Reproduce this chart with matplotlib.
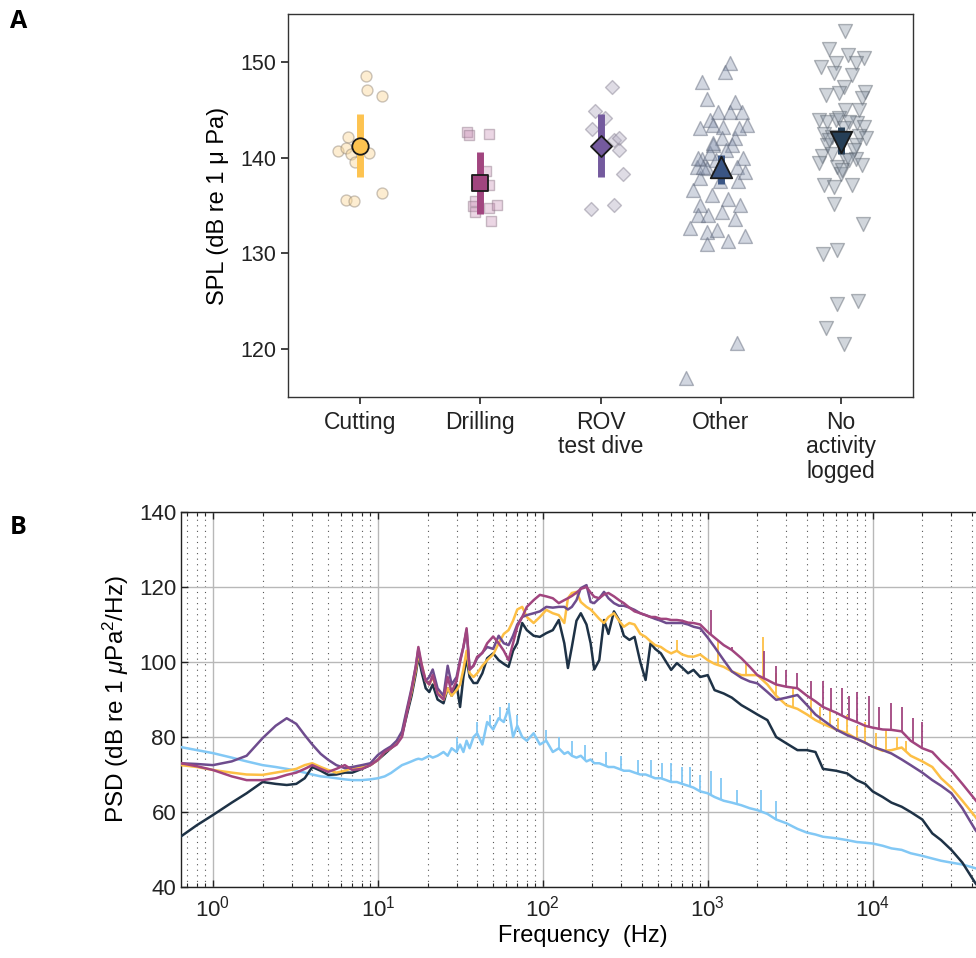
import numpy as np
import matplotlib
matplotlib.use("Agg")
import matplotlib.pyplot as plt
from matplotlib.ticker import FixedLocator, LogLocator, NullFormatter, FixedFormatter

plt.rcParams['font.family'] = ['Liberation Sans', 'DejaVu Sans']
plt.rcParams['mathtext.fontset'] = 'custom'
plt.rcParams['mathtext.rm'] = 'Liberation Sans'
plt.rcParams['mathtext.it'] = 'Liberation Sans:italic'
plt.rcParams['mathtext.bf'] = 'Liberation Sans:bold'

# ---------------- Panel A data ----------------
categories = ["Cutting", "Drilling", "ROV\ntest dive", "Other", "No\nactivity\nlogged"]

cut_spl = [148.5, 147.1, 146.4, 142.2, 140.7, 141.0, 140.4, 139.5, 140.5, 135.6, 135.5, 136.3]
cut_jit = [0.047, 0.061, 0.18, -0.097, -0.185, -0.119, -0.08, -0.044, 0.072, -0.114, -0.05, 0.18]

drill_spl = [142.7, 142.4, 142.5, 138.6, 137.1, 135.5, 134.9, 134.3, 134.7, 135.0, 133.4]
drill_jit = [-0.11, -0.09, 0.075, 0.047, 0.069, -0.041, -0.064, -0.047, 0.075, 0.139, 0.091]

rov_spl = [147.4, 144.9, 144.1, 143.0, 141.8, 142.0, 140.8, 138.3, 134.6, 135.1]
rov_jit = [0.097, -0.047, 0.041, -0.069, 0.11, 0.152, 0.152, 0.185, -0.083, 0.116]

other_spl = [149.9, 148.95, 147.9, 146.1, 145.8, 144.75, 144.75, 144.75, 143.9, 143.1,
             143.4, 143.2, 143.4, 142.1, 142.1, 141.3, 141.3, 139.9, 140.45, 140.0,
             139.0, 139.0, 138.9, 137.9, 141.5, 139.0, 140.0, 137.6, 137.6, 138.5,
             136.6, 136.05, 135.7, 135.0, 135.0, 134.05, 134.05, 134.3, 133.6, 132.2,
             132.4, 132.6, 131.0, 131.3, 131.85, 120.6, 117.0, 140.8, 139.7, 143.1]
other_jit = [0.075, 0.033, -0.158, -0.116, 0.116, -0.025, 0.075, 0.174, -0.091, -0.174,
             -0.066, 0.017, 0.216, 0.008, 0.116, -0.066, 0.091, -0.158, -0.091, 0.183,
             0.133, -0.199, -0.116, -0.174, -0.066, -0.149, -0.191, -0.008, 0.141, 0.199,
             -0.232, -0.075, 0.058, -0.174, 0.158, -0.191, -0.108, 0.008, 0.116, -0.116,
             -0.033, -0.257, -0.116, 0.058, 0.199, 0.133, -0.29, 0.041, -0.041, 0.149]

none_spl = [153.2, 151.3, 150.7, 150.45, 149.5, 149.9, 149.9, 148.8, 148.6, 147.4,
            146.5, 146.7, 146.9, 146.2, 145.0, 145.0, 143.9, 143.7, 143.9, 143.6,
            143.2, 142.5, 142.2, 142.3, 142.0, 141.3, 141.3, 140.2, 139.4, 140.4,
            139.7, 139.9, 139.2, 139.0, 138.3, 137.1, 136.9, 137.1, 135.2, 133.1,
            129.9, 130.35, 124.7, 125.0, 122.2, 120.55, 144.1, 143.7, 143.1, 141.8,
            140.8, 139.7, 138.7]
none_jit = [0.033, -0.1, 0.061, 0.191, -0.168, -0.044, 0.122, -0.058, 0.094, 0.025,
            -0.122, -0.017, 0.199, 0.177, 0.033, 0.149, -0.183, -0.114, -0.044, 0.135,
            0.191, -0.141, -0.072, 0.149, 0.205, -0.114, 0.122, -0.155, -0.183, -0.072,
            0.039, 0.122, 0.177, -0.031, -0.002, -0.141, -0.058, 0.094, -0.058, 0.183,
            -0.147, -0.036, -0.031, 0.144, -0.122, 0.025, -0.017, 0.066, 0.025, -0.1,
            0.108, 0.066, 0.008]

mean_spl = [141.2, 137.3, 141.2, 139.0, 141.6]
ci_low = [138.0, 134.1, 138.0, 137.2, 140.4]
ci_high = [144.6, 140.6, 144.6, 140.3, 143.2]

# ---------------- Panel B data ----------------
freq_hz = [0.64, 0.8, 1.0, 1.3, 1.6, 2.0, 2.4, 2.8, 3.2, 3.6, 4.0, 4.5, 5.0, 5.6, 6.3, 7.0, 8.0, 9.0,
           10, 11, 12, 13, 14, 15, 16, 17, 17.6, 18.5, 19.5, 20.5, 21.5, 23, 25, 26.5, 28, 30, 31.5,
           33, 34.5, 36, 38, 40, 43, 46, 50, 54, 58, 62, 66, 70, 75, 80, 88, 96, 105, 115, 125,
           135, 142, 150, 160, 170, 184, 195, 205, 220, 235, 250, 270, 290, 310, 335, 360, 390,
           420, 450, 480, 520, 560, 600, 650, 700, 760, 820, 900, 1000, 1100, 1250, 1400, 1600,
           1800, 2000, 2300, 2600, 3000, 3500, 4000, 4500, 5000, 6000, 7000, 8000, 9000, 10000,
           11500, 13000, 15000, 17000, 20000, 23000, 26000, 30000, 35000, 42000, 48000]

psd_cutting = [72.5, 72, 71.2, 70.5, 70, 69.9, 70.5, 71, 71.5, 72.5, 73, 72, 71.2, 70.5, 71, 71.7, 72, 72.5,
               73.9, 76, 77, 78.5, 81, 87, 92, 98, 102, 99, 95, 94, 96, 92, 90, 93, 91, 92.5, 94,
               98, 103, 97, 96, 97, 99, 100.5, 102, 105, 107.5, 108.5, 111, 114, 114.7, 112, 110.4, 112, 113.9, 113, 112.5,
               110.4, 117, 118.4, 118.7, 116, 114.7, 114, 113, 111.5, 110.4, 112, 113, 111, 109.4, 110.4, 110, 107.5,
               106.7, 105.5, 104.5, 104, 103, 102.3, 103, 102, 101.5, 101.4, 102, 100.5, 99.5, 98.7, 97.5, 96.5,
               96.5, 96.5, 94, 91, 88.5, 87.5, 86, 84.5, 83.5, 82, 81, 79.5, 78.5, 77.4,
               76.3, 76.5, 77.2, 75, 73.5, 72, 69, 66.5, 63, 58.7, 55]

psd_rov = [73, 72.8, 72.5, 73.5, 75, 79.7, 83, 85, 83.5, 80.5, 78, 75.5, 73.9, 72.5, 71.7, 72, 72.5, 73,
           75.2, 76.5, 77.5, 79, 81.5, 87.5, 93, 99, 103.5, 98, 95, 96, 98, 93, 91, 99, 94, 96, 100.5,
           104, 108.5, 98, 99, 101, 102.5, 104, 103.5, 107, 105, 104.5, 107, 110, 112, 112.5, 113, 113.5, 114.7, 114.5, 114.7,
           114.7, 114, 114.7, 116.5, 119.7, 120.5, 116, 115.7, 117, 118.7, 117, 115.7, 115, 115, 114.5, 113.9, 113,
           112.5, 112, 111.5, 111, 110.4, 110.4, 110.4, 110.4, 110, 109.4, 109, 106.5, 104, 100.5, 97.5, 95.8,
           94.8, 94.3, 92, 89.9, 90.5, 91.2, 88.5, 86, 84.5, 82, 80.5, 79.5, 78.5, 77.4,
           76.5, 75.6, 74, 72.5, 70.5, 68.5, 67, 65, 61, 55.2, 52]

psd_drilling = [73, 72.2, 71.2, 69.5, 68.5, 68.5, 69, 69.9, 70.5, 71.5, 72.5, 71.5, 70.7, 71.5, 72.5, 71.2, 71.5, 72.5,
                73.9, 76, 77, 78, 80, 86.5, 92.5, 99, 104, 99, 95, 94, 96.5, 91.5, 90, 96, 92, 95, 100,
                104, 109, 98, 99, 101.4, 102.4, 105, 106.8, 105, 103, 100.5, 105, 109.4, 112, 114.7, 116.5, 117.9, 117.5, 117, 115.7,
                116.5, 117, 117.6, 118.5, 119.5, 120, 118.5, 117.4, 117, 118, 118.4, 117.5, 116.5, 115.7, 114.5, 113.5, 113,
                112.5, 112, 112, 111.5, 111.5, 111.2, 111.2, 111, 110.5, 110.4, 110, 108, 106.5, 104.5, 103.2, 101,
                98.7, 96.5, 95.2, 94, 93.4, 93, 91, 89.5, 88, 86.5, 85, 84, 83, 82.5,
                82, 81.9, 81.5, 79, 77, 76, 73.5, 71, 67.5, 63.2, 60]

psd_other = [53.5, 56.5, 59.2, 62.5, 65, 68, 67.5, 67.2, 67.5, 69, 72, 71, 69.9, 70, 70.5, 70.5, 71.5, 72.5,
             73.9, 75.5, 77, 78.5, 80.5, 86, 91, 97, 101.5, 97, 93, 92, 94, 90, 89, 93, 91, 94, 88,
             96, 101, 96, 94.4, 94.4, 97, 101, 102.3, 100.5, 99.5, 98.7, 103, 105, 110.4, 108.5, 107, 106.7, 107.7, 108.5, 111.2,
             105, 98.4, 104, 111, 113, 110, 105, 98, 100.5, 111.2, 107.5, 113.5, 111.2, 107, 105.9, 106.7, 100,
             95.2, 105, 103.5, 102.3, 100, 97.9, 99.7, 98.5, 97, 97.9, 96, 96.5, 92.5, 91.6, 90.5, 88.5,
             87.2, 86, 84.5, 80, 78.3, 76.5, 76.5, 76, 71.5, 71, 70.3, 68.5, 67.5, 65.5,
             64, 62.5, 61.4, 60, 58, 54.3, 52.5, 49.9, 46.5, 41, 38]

psd_none = [77.3, 76.5, 75.7, 74.5, 73.5, 72.5, 72, 71.5, 71, 70.5, 70, 69.5, 69.3, 69, 68.7, 68.5, 68.5, 68.7,
            69, 69.5, 70.4, 71.5, 72.5, 73, 73.5, 74, 74.2, 74, 74.5, 75, 74.5, 75, 76, 75, 77, 76, 78,
            76, 79, 77, 80, 81, 78, 84, 82, 85, 84, 87.7, 80, 83, 80, 79, 81, 78, 79, 76, 77,
            75.5, 76, 75, 74.5, 75, 73.5, 74, 73, 73, 72.5, 72, 72, 71.5, 71, 71, 70.5, 70,
            70, 69.5, 69, 69, 68.5, 68, 68, 67.5, 67, 66.5, 65.5, 65, 64, 63, 62.5, 61.8,
            61, 60.5, 59.5, 58, 57, 55.5, 54.5, 54, 53.4, 53, 52.5, 52, 51.8, 51.6,
            51, 50.3, 49.9, 49, 48.3, 47.6, 47, 46.5, 46, 45, 44]

# narrow tonal spikes (frequency, peak level)
spk_none_f = [30, 40, 48, 55, 62, 70, 105, 125, 150, 180, 240, 300, 380, 450, 530, 600, 700,
              780, 900, 1050, 1200, 1500, 2100, 2600]
spk_none_v = [80, 84, 86, 88, 89, 86, 82, 80, 79, 78, 76, 75, 74, 74, 73, 73, 72,
              72, 70, 71, 69, 66, 66, 63]
spk_cut_f = [650, 1150, 1700, 2150, 2600, 3300, 4200, 4800, 5500, 6200, 7000, 8000, 9000,
             10500, 12000, 14000, 16000]
spk_cut_v = [106, 106, 100, 106.7, 97, 93, 90, 88, 87, 85, 86, 83, 84, 81, 82, 80, 79]
spk_drill_f = [1050, 1400, 2200, 2600, 3000, 3500, 4200, 5000, 5600, 6500, 7200, 8000, 9500,
               11000, 13000, 15000, 17500, 20000]
spk_drill_v = [114, 104, 103, 99, 98, 97, 95, 95, 93, 93, 91, 92, 91, 88, 89, 88, 85, 84]

# ---------------- Figure ----------------
W, H = 976, 958
fig = plt.figure(figsize=(W / 100, H / 100), dpi=100)

def frac(x0, y0, x1, y1):
    return [x0 / W, 1 - y1 / H, (x1 - x0) / W, (y1 - y0) / H]

# ---- Panel A ----
axA = fig.add_axes(frac(288, 14, 913, 397))
pos = np.arange(1, 6)
mean_cols = ['#FDC350', '#A1457F', '#745A9E', '#3A5584', '#263F57']
groups = [
    (cut_spl, cut_jit, 'o', 62, (0.99, 0.85, 0.60, 0.45), (0.55, 0.50, 0.45, 0.45)),
    (drill_spl, drill_jit, 's', 62, (0.78, 0.55, 0.70, 0.35), (0.55, 0.45, 0.52, 0.45)),
    (rov_spl, rov_jit, 'D', 50, (0.72, 0.70, 0.78, 0.45), (0.50, 0.48, 0.55, 0.45)),
    (other_spl, other_jit, '^', 100, (0.55, 0.60, 0.70, 0.40), (0.35, 0.38, 0.45, 0.45)),
    (none_spl, none_jit, 'v', 100, (0.55, 0.60, 0.66, 0.40), (0.35, 0.38, 0.42, 0.45)),
]
mean_markers = ['o', 's', 'D', '^', 'v']
mean_sizes = [140, 140, 115, 240, 240]
for i, (vals, jit, mk, sz, fc, ec) in enumerate(groups):
    x = pos[i] + np.array(jit)
    axA.scatter(x, vals, s=sz, marker=mk, facecolors=[fc], edgecolors=[ec], linewidths=1.0, zorder=2)
    axA.plot([pos[i], pos[i]], [ci_low[i], ci_high[i]], color=mean_cols[i], lw=5,
             solid_capstyle='butt', zorder=3)
    axA.scatter([pos[i]], [mean_spl[i]], s=mean_sizes[i], marker=mean_markers[i],
                facecolors=mean_cols[i], edgecolors='#1a1a1a', linewidths=1.3, zorder=4)

axA.set_xlim(0.4, 5.6)
axA.set_ylim(115, 155)
axA.set_yticks([120, 130, 140, 150])
axA.set_xticks(pos)
axA.set_xticklabels(categories, fontsize=16.5, linespacing=1.08)
axA.tick_params(axis='both', direction='out', length=5, width=1.2, colors='#222')
axA.tick_params(axis='y', labelsize=15.5)
axA.tick_params(axis='x', pad=5)
for s in axA.spines.values():
    s.set_linewidth(1.0)
    s.set_color('#333')
axA.set_ylabel('SPL (dB re 1 \u03bc Pa)', fontsize=17, labelpad=8)

# ---- Panel B ----
axB = fig.add_axes(frac(181, 512, 985, 887))
axB.set_xscale('log')
lf = np.log10(freq_hz)
series = [
    (psd_none, '#82C8F5', spk_none_f, spk_none_v),
    (psd_other, '#1E3246', None, None),
    (psd_cutting, '#FDBF45', spk_cut_f, spk_cut_v),
    (psd_rov, '#6E4C8E', None, None),
    (psd_drilling, '#A1457F', spk_drill_f, spk_drill_v),
]
for k, (vals, col, sf, sv) in enumerate(series):
    axB.plot(freq_hz, vals, color=col, lw=1.8, zorder=3 + k)
    if sf is not None:
        base = np.interp(np.log10(sf), lf, vals)
        axB.vlines(sf, base, sv, color=col, lw=1.3, zorder=3 + k)

axB.set_xlim(0.64, 48000)
axB.set_ylim(40, 140)
axB.set_yticks([40, 60, 80, 100, 120, 140])
axB.xaxis.set_major_locator(FixedLocator([1, 10, 100, 1000, 10000]))
axB.xaxis.set_major_formatter(FixedFormatter([r'$10^{0}$', r'$10^{1}$', r'$10^{2}$', r'$10^{3}$', r'$10^{4}$']))
axB.xaxis.set_minor_locator(LogLocator(base=10, subs=np.arange(2, 10), numticks=20))
axB.xaxis.set_minor_formatter(NullFormatter())
axB.grid(True, which='major', color='#b8b8b8', lw=1.0, ls='-')
axB.grid(True, which='minor', axis='x', color='#555555', lw=0.8, ls=(0, (1, 4)))
axB.set_axisbelow(True)
axB.tick_params(which='both', direction='in', top=True, right=True, labelsize=16, colors='#222')
axB.tick_params(which='major', length=5, width=1.0)
axB.tick_params(which='minor', length=3, width=0.8)
axB.tick_params(axis='x', pad=6)
for s in axB.spines.values():
    s.set_linewidth(1.0)
    s.set_color('#222')
axB.set_xlabel('Frequency  (Hz)', fontsize=17, labelpad=3)
axB.set_ylabel(r'PSD (dB re 1 $\mu$Pa$^2$/Hz)', fontsize=17.5, labelpad=6)

fig.text(10 / W, 1 - 22 / H, 'A', fontsize=18, fontweight='bold', family=['Open Sans', 'DejaVu Sans'], va='center')
fig.text(10 / W, 1 - 527 / H, 'B', fontsize=18, fontweight='bold', family=['Open Sans', 'DejaVu Sans'], va='center')

fig.savefig('out.png', dpi=100)
